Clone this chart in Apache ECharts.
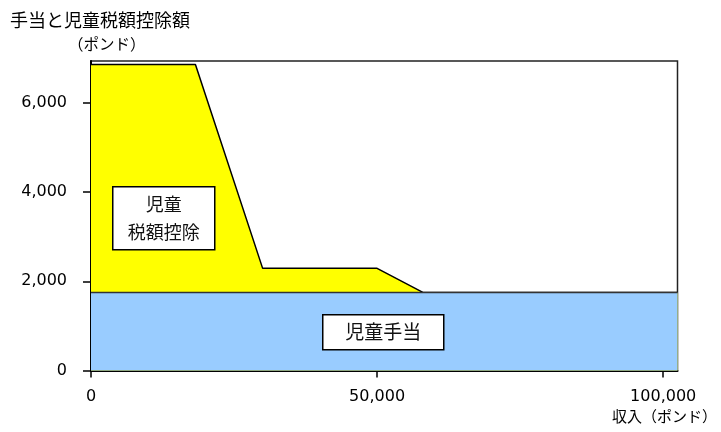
<!DOCTYPE html>
<html>
<head>
<meta charset="utf-8">
<script src="https://cdn.jsdelivr.net/npm/echarts@6/dist/echarts.min.js"></script>
<style>
  html, body { margin: 0; padding: 0; background: #fff; }
  #chart { width: 721px; height: 432px; }
</style>
</head>
<body>
<div id="chart"></div>
<script>
// Income breakpoints (pounds) where the schedule changes slope
const income = [0, 18250, 30000, 50000, 58000, 102500];
// Child benefit (flat) and child tax credit on top of it (pounds)
const childBenefit = [1750, 1750, 1750, 1750, 1750, 1750];
const childTaxCredit = [5110, 5110, 540, 540, 0, 0];
// Axis tick values
const xTicks = [0, 50000, 100000];
const yTicks = [0, 2000, 4000, 6000];

const jp = '"Noto Sans CJK JP", sans-serif';
const num = '"DejaVu Sans", sans-serif';

// Benefit area, and the combined total (benefit + credit) whose area sits behind it
const benefitPts = income.map((x, i) => [x, childBenefit[i]]);
const totalPts = income.map((x, i) => [x, childBenefit[i] + childTaxCredit[i]]);

// A white labelled box drawn above the plotted areas
function labelBox(left, top, w, h, text, size, lineHeight) {
  return {
    type: 'group', left: left, top: top, z: 100,
    children: [
      { type: 'rect', z: 100, shape: { x: 0, y: 0, width: w, height: h },
        style: { fill: '#fff', stroke: '#000', lineWidth: 1.5 } },
      { type: 'text', z: 101, x: w / 2, y: h / 2, style: {
        text: text, font: size + 'px ' + jp, fill: '#111',
        align: 'center', verticalAlign: 'middle', lineHeight: lineHeight
      } }
    ]
  };
}

const chart = echarts.init(document.getElementById('chart'), null, { renderer: 'canvas' });

chart.setOption({
  animation: false,
  backgroundColor: '#fff',
  grid: {
    left: 91, right: 43.5, top: 61, bottom: 61.5,
    show: true, borderColor: '#222', borderWidth: 1.5, backgroundColor: 'transparent'
  },
  xAxis: {
    type: 'value', min: 0, max: 102500, interval: 50000,
    axisLine: { show: true, onZero: false, lineStyle: { color: '#000', width: 2 } },
    axisTick: { show: true, length: 7, customValues: xTicks, lineStyle: { color: '#000', width: 1.5 } },
    axisLabel: {
      customValues: xTicks, margin: 18, color: '#000', fontFamily: num, fontSize: 16,
      formatter: v => v.toLocaleString('en-US')
    },
    splitLine: { show: false }
  },
  yAxis: {
    type: 'value', min: 0, max: 6940, interval: 2000,
    axisLine: { show: true, lineStyle: { color: '#000', width: 2 } },
    axisTick: { show: true, length: 8, customValues: yTicks, lineStyle: { color: '#000', width: 1.5 } },
    axisLabel: {
      customValues: yTicks, margin: 24, color: '#000', fontFamily: num, fontSize: 16,
      formatter: v => v.toLocaleString('en-US')
    },
    splitLine: { show: false }
  },
  series: [
    {
      name: '児童税額控除', type: 'line', data: totalPts,
      symbol: 'none', lineStyle: { color: '#000', width: 1.5 },
      areaStyle: { color: '#FFFF00', opacity: 1 }, z: 2
    },
    {
      name: '児童手当', type: 'line', data: benefitPts,
      symbol: 'none', lineStyle: { color: '#333', width: 1.5 },
      areaStyle: { color: '#99CCFF', opacity: 1 }, z: 3
    }
  ],
  graphic: [
    { type: 'text', left: 10, top: 11, style: { text: '手当と児童税額控除額', font: '18px ' + jp, fill: '#000' } },
    { type: 'text', left: 68, top: 36, style: { text: '（ポンド）', font: '15.5px ' + jp, fill: '#000' } },
    { type: 'text', right: 4, top: 409, style: { text: '収入（ポンド）', font: '15px ' + jp, fill: '#000' } },
    labelBox(112, 186, 102, 63, '児童\n税額控除', 18, 28),
    labelBox(322, 314, 121, 35, '児童手当', 19, 22)
  ]
});
</script>
</body>
</html>
